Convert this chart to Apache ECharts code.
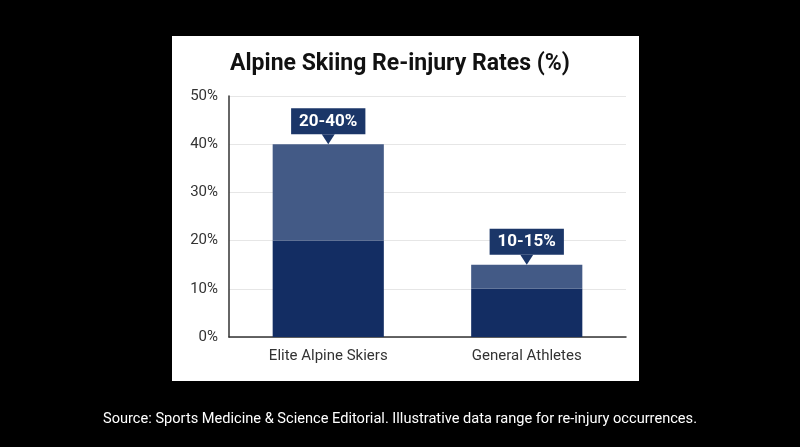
<!DOCTYPE html>
<html>
<head>
<meta charset="utf-8">
<script src="https://cdn.jsdelivr.net/npm/echarts@6/dist/echarts.min.js"></script>
<style>html,body{margin:0;padding:0;background:#000;}#c{width:800px;height:447px;}</style>
</head>
<body>
<div id="c"></div>
<script>
const categories = ['Elite Alpine Skiers', 'General Athletes'];
const lowValues = [20, 10];
const highValues = [40, 15];
const yTicks = [0, 10, 20, 30, 40, 50];

const upperPart = highValues.map((h, i) => h - lowValues[i]);
const rangeLabels = highValues.map((h, i) => lowValues[i] + '-' + h + '%');

const chart = echarts.init(document.getElementById('c'));
chart.setOption({
  backgroundColor: '#000',
  animation: false,
  textStyle: { fontFamily: 'Roboto' },
  graphic: [{
    type: 'rect', z: -100, silent: true,
    shape: { x: 172, y: 36, width: 467, height: 345 },
    style: { fill: '#ffffff' }
  }],
  title: [{
    text: 'Alpine Skiing Re-injury Rates (%)',
    left: 'center', top: 48,
    textStyle: { fontFamily: 'Roboto', fontSize: 23, fontWeight: 'bold', color: '#111' }
  }, {
    text: 'Source: Sports Medicine & Science Editorial. Illustrative data range for re-injury occurrences.',
    left: 'center', top: 407,
    textStyle: { fontFamily: 'Roboto', fontSize: 14.6, fontWeight: 'normal', color: '#fff' }
  }],
  grid: { left: 229, right: 174, top: 96, bottom: 110 },
  xAxis: {
    type: 'category',
    data: categories,
    axisLine: { lineStyle: { color: '#333', width: 1.5 } },
    axisTick: { show: false },
    axisLabel: { fontSize: 15, color: '#333', margin: 12 }
  },
  yAxis: {
    type: 'value',
    min: 0, max: 50, interval: 10,
    axisLine: { show: true, lineStyle: { color: '#333', width: 1.5 } },
    axisTick: { show: false },
    splitLine: { lineStyle: { color: '#e6e6e6' } },
    axisLabel: { fontSize: 15, color: '#333', margin: 11, formatter: v => yTicks.includes(v) ? v + '%' : '' }
  },
  series: [{
    type: 'bar', stack: 'r', barWidth: '56%',
    data: lowValues,
    itemStyle: { color: '#132d63' }
  }, {
    type: 'bar', stack: 'r', barWidth: '56%',
    data: upperPart,
    itemStyle: { color: '#435a86' },
    label: {
      show: true, position: 'top', distance: 10,
      formatter: p => rangeLabels[p.dataIndex],
      backgroundColor: '#1b3668',
      color: '#fff', fontSize: 17, fontWeight: 'bold',
      padding: [4, 8, 3, 8], lineHeight: 19
    }
  }, {
    type: 'scatter',
    data: highValues,
    symbol: 'triangle', symbolRotate: 180,
    symbolSize: [13, 10], symbolOffset: [0, -5],
    itemStyle: { color: '#1b3668', opacity: 1 },
    z: 5, silent: true
  }]
});
</script>
</body>
</html>
